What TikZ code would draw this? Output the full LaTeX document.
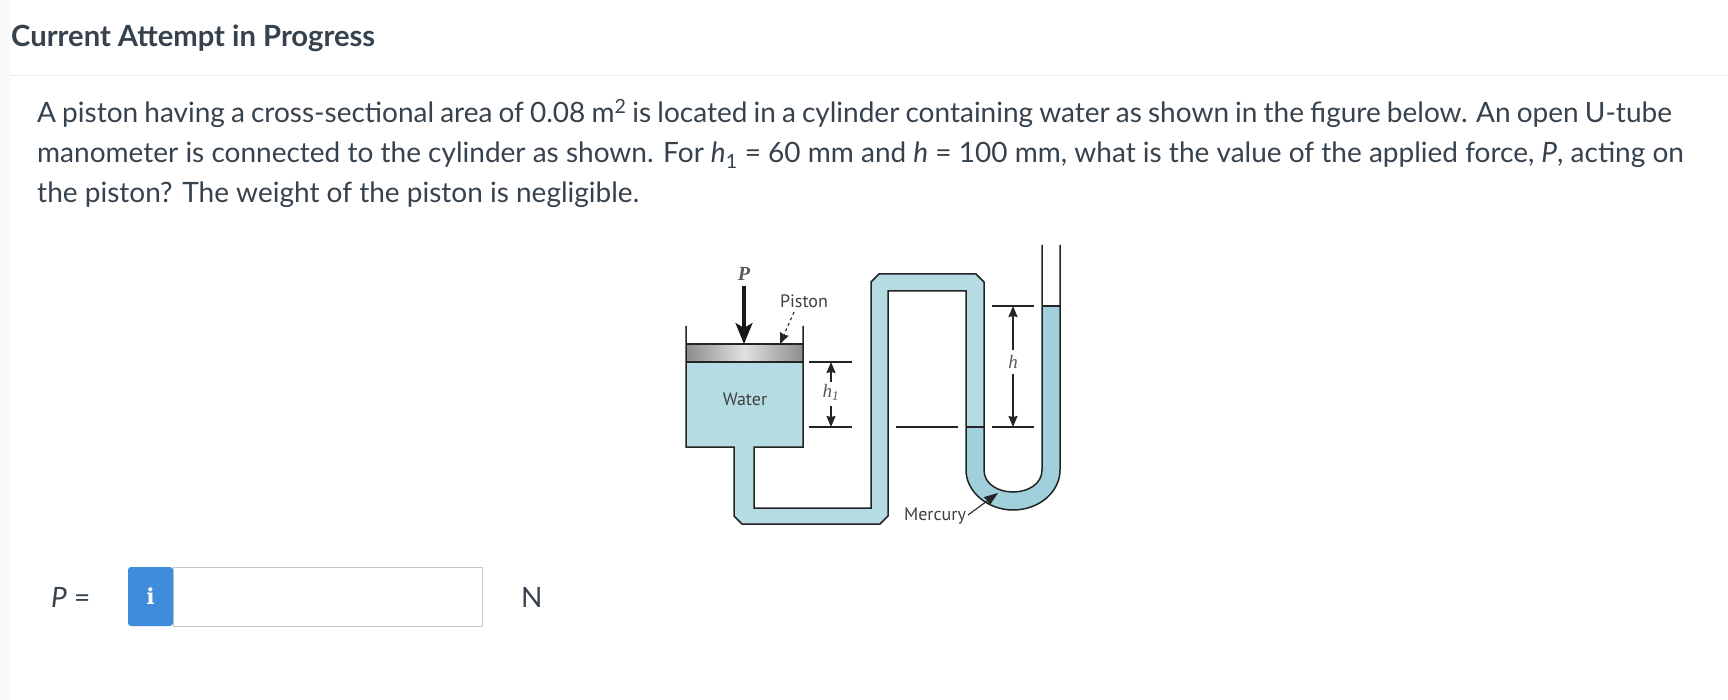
\documentclass[tikz,border=0pt]{standalone}
\usepackage{fontspec}
\usetikzlibrary{arrows.meta,calc}
\setmainfont{Lato}
\newfontfamily\labelfont{PT Sans}
\newfontfamily\symfont{Liberation Serif}
\newfontfamily\iconfont{DejaVu Serif}
\definecolor{ink}{HTML}{36424D}
\definecolor{water}{HTML}{B5DBE3}
\definecolor{merc}{HTML}{9FD0DC}
\definecolor{linecol}{HTML}{242424}
\definecolor{iconblue}{HTML}{3F8CDD}
\tikzset{
  qtext/.style={anchor=base west,inner sep=0pt,text=ink,font=\fontsize{28}{32}\selectfont},
  fig/.style={draw=linecol,line width=1.5pt,line join=miter},
  dimline/.style={draw=linecol,line width=1.2pt},
  dimarrow/.style={draw=linecol,line width=1.3pt,-{Stealth[length=11pt,width=9pt,inset=1pt]}},
  figlabel/.style={inner sep=0pt,text=black!75,font=\labelfont\fontsize{18}{20}\selectfont},
  symlabel/.style={inner sep=0pt,text=black!65,font=\symfont\itshape\fontsize{19}{22}\selectfont},
}
\begin{document}
\begin{tikzpicture}[x=1pt,y=-1pt]
\useasboundingbox (0,0) rectangle (1728,700);
\fill[white] (0,0) rectangle (1728,700);
\fill[black!2] (0,0) rectangle (10,700);
\draw[black!7,line width=1pt] (10,76) -- (1728,76);
% text
\node[qtext,font=\bfseries\fontsize{29.2}{32}\selectfont] (title) at (11,47) {Current Attempt in Progress};
\node[qtext] (l1) at (37,123) {\spaceskip=6.1pt A piston having a cross-sectional area of 0.08 m\textsuperscript{2} is located in a cylinder containing water as shown in the figure below. An open U-tube};
\node[qtext] (l2) at (37,163) {manometer is connected to the cylinder as shown. For \textit{h}\textsubscript{1} = 60 mm and \textit{h} = 100 mm, what is the value of the applied force, \textit{P}, acting on};
\node[qtext] (l3) at (37,203) {the piston? The weight of the piston is negligible.};
% answer row
\node[qtext] (peq) at (51,607) {\textit{P} =};
\node[qtext] (unit) at (521,607) {N};
\draw[black!22,line width=1pt] (173,567) rectangle (482,626);
\fill[iconblue,rounded corners=3pt] (128,567) -- (173,567) -- (173,626) -- (128,626) -- cycle;
\node[inner sep=0pt,text=white,font=\iconfont\bfseries\fontsize{22}{24}\selectfont] (icon) at (150.5,596) {i};
% water body and tube
\path[fill=water] (686,362) -- (686,447) -- (734,447) -- (734,516) -- (742,524) -- (880,524)
  -- (888,516) -- (888,291) -- (966,291) -- (966,427) -- (984,427) -- (984,282) -- (976,274)
  -- (879,274) -- (871,282) -- (871,508) -- (754,508) -- (754,447) -- (803,447) -- (803,362) -- cycle;
% mercury
\path[fill=merc] (966,427) -- (966,470) .. controls (966,492) and (988,510) .. (1013,510) .. controls (1039,510) and (1060,492) .. (1060,470) -- (1060,306) -- (1042,306) -- (1042,470) .. controls (1042,484) and (1028,492) .. (1013,492) .. controls (998,492) and (984,484) .. (984,470) -- (984,427) -- cycle;
% piston
\shade[left color=black!45,right color=black!45,middle color=black!12] (686,344) rectangle (803,362);
% outlines
\draw[fig] (686,326) -- (686,447) -- (734,447) -- (734,516) -- (742,524) -- (880,524) -- (888,516) -- (888,291) -- (966,291) -- (966,470)
  .. controls (966,492) and (988,510) .. (1013,510) .. controls (1039,510) and (1060,492) .. (1060,470) -- (1060,245);
\draw[fig] (803,326) -- (803,447) -- (754,447) -- (754,508) -- (871,508) -- (871,282) -- (879,274) -- (976,274) -- (984,282) -- (984,470)
  .. controls (984,484) and (998,492) .. (1013,492) .. controls (1028,492) and (1042,484) .. (1042,470) -- (1042,245);
\draw[fig] (686,344) -- (803,344);
\draw[fig] (686,362) -- (803,362);
\draw[fig] (966,427) -- (984,427);
\draw[fig] (1042,306) -- (1060,306);
% reference lines
\draw[dimline] (809,362) -- (852,362);
\draw[dimline] (809,427) -- (852,427);
\draw[dimline] (896,427) -- (958,427);
\draw[dimline] (992,306) -- (1034,306);
\draw[dimline] (992,427) -- (1034,427);
% labels
\node[symlabel,font=\symfont\itshape\bfseries\fontsize{20}{22}\selectfont] (pl) at (744,274) {P};
\node[figlabel] (piston) at (804,301) {Piston};
\node[figlabel] (waterl) at (745,399) {Water};
\node[figlabel] (mercury) at (935,516) {Mercury};
\node[symlabel] (hone) at (831,392) {h\textsubscript{1}};
\node[symlabel] (hl) at (1013,362) {h};
% arrows
\coordinate (ptop) at (744,286);
\coordinate (ptip) at (744,344);
\draw[draw=black!90,line width=3.2pt,-{Stealth[length=21pt,width=17pt,inset=5pt]}] (ptop) -- (ptip);
\coordinate (lpa) at (794,312);
\coordinate (lpb) at (780,344);
\draw[draw=linecol,line width=1.1pt,dashed,-{Stealth[length=11pt,width=9pt,inset=1pt]}] (lpa) -- (lpb);
\coordinate (hoa) at (831,382);
\coordinate (hob) at (831,362);
\coordinate (hoc) at (831,406);
\coordinate (hod) at (831,427);
\draw[dimarrow] (hoa) -- (hob);
\draw[dimarrow] (hoc) -- (hod);
\coordinate (ha) at (1013,350);
\coordinate (hb) at (1013,306);
\coordinate (hc) at (1013,374);
\coordinate (hd) at (1013,427);
\draw[dimarrow] (ha) -- (hb);
\draw[dimarrow] (hc) -- (hd);
\coordinate (ma) at (968,515);
\coordinate (mb) at (998,493);
\draw[draw=linecol,line width=1.1pt,-{Stealth[length=14pt,width=10pt,inset=1pt]}] (ma) -- (mb);
\end{tikzpicture}
\end{document}
